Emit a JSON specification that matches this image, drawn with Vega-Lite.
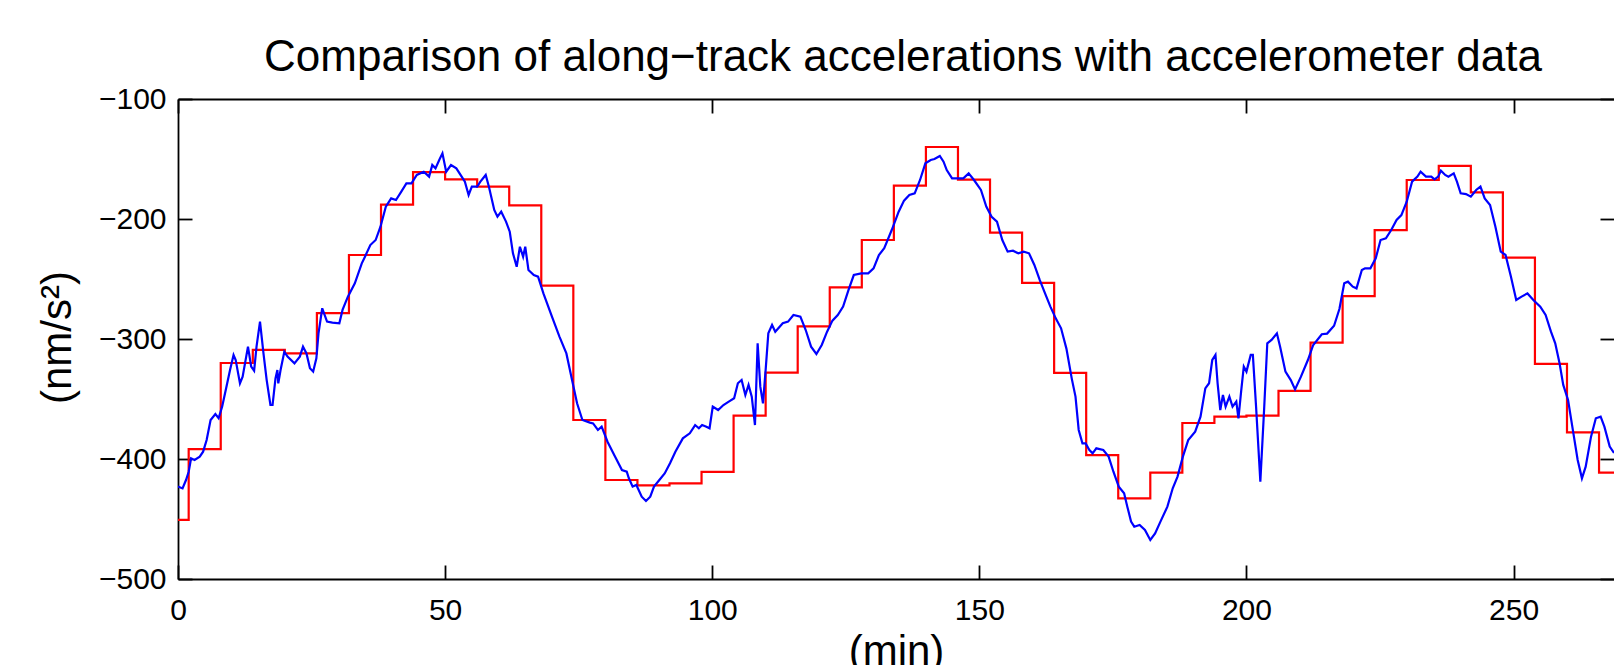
{
  "$schema": "https://vega.github.io/schema/vega-lite/v6.json",
  "autosize": "none",
  "width": 1436,
  "height": 480,
  "padding": {"left": 178, "top": 99, "right": 0, "bottom": 86},
  "background": "white",
  "config": {
    "view": {"stroke": null},
    "font": "Liberation Sans",
    "axis": {"grid": false, "labelFlush": false, "labelOverlap": false, "domainColor": "black", "tickColor": "black", "labelColor": "black", "titleColor": "black", "labelFont": "Liberation Sans", "titleFont": "Liberation Sans", "titleFontWeight": "normal", "domainWidth": 1.8, "tickWidth": 1.8, "tickSize": -14}
  },
  "title": {"text": "Comparison of along−track accelerations with accelerometer data", "font": "Liberation Sans", "fontSize": 44, "fontWeight": "normal", "color": "black", "anchor": "middle", "frame": "group", "baseline": "alphabetic", "offset": 26, "dx": 7, "dy": 57},
  "datasets": {
    "track": [
      {"t": 0, "v": -450.8}, {"t": 2, "v": -391.8}, {"t": 8, "v": -320}, {"t": 14, "v": -309}, {"t": 20, "v": -312},
      {"t": 26, "v": -278.4}, {"t": 32, "v": -230}, {"t": 38, "v": -188}, {"t": 44, "v": -161}, {"t": 50, "v": -167},
      {"t": 56, "v": -173}, {"t": 62, "v": -188.6}, {"t": 68, "v": -255.5}, {"t": 74, "v": -367.5}, {"t": 80, "v": -417.5},
      {"t": 86, "v": -421.9}, {"t": 92, "v": -420.3}, {"t": 98, "v": -410.8}, {"t": 104, "v": -363.9}, {"t": 110, "v": -328},
      {"t": 116, "v": -289.5}, {"t": 122, "v": -256.9}, {"t": 128, "v": -217.5}, {"t": 134, "v": -172.2}, {"t": 140, "v": -140},
      {"t": 146, "v": -167.2}, {"t": 152, "v": -211.4}, {"t": 158, "v": -253.3}, {"t": 164, "v": -328.2}, {"t": 170, "v": -396.7},
      {"t": 176, "v": -432.8}, {"t": 182, "v": -411.4}, {"t": 188, "v": -370}, {"t": 194, "v": -364.7}, {"t": 200, "v": -363.9},
      {"t": 206, "v": -343.3}, {"t": 212, "v": -303}, {"t": 218, "v": -264.2}, {"t": 224, "v": -209.2}, {"t": 230, "v": -167.5},
      {"t": 236, "v": -155.8}, {"t": 242, "v": -177.8}, {"t": 248, "v": -232.2}, {"t": 254, "v": -320.7}, {"t": 260, "v": -377.8},
      {"t": 266, "v": -411.4}, {"t": 268.8, "v": -411.4}
    ],
    "accel": [
      {"t": 0.0, "v": -423}, {"t": 0.85, "v": -424.5}, {"t": 1.5, "v": -417.5}, {"t": 2.0, "v": -410.6}, {"t": 2.45, "v": -399.4},
      {"t": 3.1, "v": -400.8}, {"t": 4.07, "v": -398}, {"t": 4.7, "v": -393.9}, {"t": 5.36, "v": -384.2}, {"t": 6.1, "v": -367.5},
      {"t": 7.0, "v": -362.5}, {"t": 7.6, "v": -366}, {"t": 8.26, "v": -356.4}, {"t": 9.2, "v": -337}, {"t": 9.74, "v": -325.8},
      {"t": 10.4, "v": -313.3}, {"t": 10.8, "v": -317.5}, {"t": 11.6, "v": -337}, {"t": 12.1, "v": -331.4}, {"t": 13.1, "v": -306.4},
      {"t": 13.7, "v": -323}, {"t": 14.25, "v": -326.4}, {"t": 14.7, "v": -306.4}, {"t": 15.35, "v": -285.5}, {"t": 16.0, "v": -312},
      {"t": 16.6, "v": -334.2}, {"t": 17.3, "v": -355}, {"t": 17.7, "v": -355}, {"t": 18.25, "v": -332.8}, {"t": 18.6, "v": -325.8},
      {"t": 18.77, "v": -337}, {"t": 19.2, "v": -325.8}, {"t": 19.9, "v": -310.6}, {"t": 20.5, "v": -314.7}, {"t": 21.8, "v": -320.3},
      {"t": 22.8, "v": -314.7}, {"t": 23.4, "v": -306.4}, {"t": 24.05, "v": -312}, {"t": 24.7, "v": -324.4}, {"t": 25.3, "v": -327.2},
      {"t": 25.9, "v": -316.1}, {"t": 26.3, "v": -295.3}, {"t": 27.0, "v": -274.4}, {"t": 27.9, "v": -285.5}, {"t": 28.9, "v": -286.4},
      {"t": 30.2, "v": -286.9}, {"t": 30.8, "v": -275.8}, {"t": 31.8, "v": -264.7}, {"t": 33.1, "v": -253.6}, {"t": 34.4, "v": -237},
      {"t": 35.0, "v": -231.4}, {"t": 36.0, "v": -221.7}, {"t": 37.0, "v": -217.5}, {"t": 37.9, "v": -206.4}, {"t": 38.9, "v": -189.7},
      {"t": 39.9, "v": -182.8}, {"t": 40.8, "v": -184.2}, {"t": 41.8, "v": -177.2}, {"t": 42.75, "v": -170.3}, {"t": 43.7, "v": -170.3},
      {"t": 44.7, "v": -163.3}, {"t": 46.0, "v": -160.6}, {"t": 47.0, "v": -164.7}, {"t": 47.6, "v": -155}, {"t": 48.2, "v": -157.8},
      {"t": 48.9, "v": -150.8}, {"t": 49.5, "v": -145.3}, {"t": 50.2, "v": -160.6}, {"t": 51.1, "v": -155}, {"t": 52.1, "v": -157.8},
      {"t": 53.1, "v": -164.7}, {"t": 53.7, "v": -168.9}, {"t": 54.4, "v": -180}, {"t": 55.0, "v": -173.1}, {"t": 56.0, "v": -173.1},
      {"t": 56.6, "v": -168.9}, {"t": 57.6, "v": -163.3}, {"t": 58.2, "v": -173.1}, {"t": 59.2, "v": -192.5}, {"t": 59.8, "v": -198.1},
      {"t": 60.5, "v": -193.9}, {"t": 61.4, "v": -202.2}, {"t": 62.1, "v": -210.6}, {"t": 62.7, "v": -228.6}, {"t": 63.4, "v": -239.8},
      {"t": 64.0, "v": -223.1}, {"t": 64.6, "v": -231.4}, {"t": 65.0, "v": -223.1}, {"t": 65.6, "v": -242.5}, {"t": 66.6, "v": -246.7},
      {"t": 67.4, "v": -248}, {"t": 68.4, "v": -262}, {"t": 70.0, "v": -281.4}, {"t": 71.4, "v": -298}, {"t": 72.7, "v": -312},
      {"t": 73.7, "v": -333}, {"t": 74.7, "v": -353.6}, {"t": 75.7, "v": -367.5}, {"t": 77.1, "v": -369.7}, {"t": 77.7, "v": -370.3},
      {"t": 78.6, "v": -375.8}, {"t": 79.3, "v": -373}, {"t": 80.4, "v": -385.6}, {"t": 81.8, "v": -398}, {"t": 83.1, "v": -409.2},
      {"t": 84.0, "v": -410.6}, {"t": 84.4, "v": -416.1}, {"t": 85.1, "v": -423}, {"t": 85.8, "v": -421.7}, {"t": 86.8, "v": -431.4},
      {"t": 87.6, "v": -435}, {"t": 88.4, "v": -431.4}, {"t": 89.1, "v": -423}, {"t": 90.1, "v": -417.5}, {"t": 91.1, "v": -412},
      {"t": 92.1, "v": -403.6}, {"t": 93.1, "v": -393.9}, {"t": 94.5, "v": -382.8}, {"t": 95.8, "v": -378.6}, {"t": 96.8, "v": -371.7},
      {"t": 97.5, "v": -374.4}, {"t": 98.1, "v": -371.7}, {"t": 98.8, "v": -373}, {"t": 99.5, "v": -374.4}, {"t": 100.1, "v": -356.4},
      {"t": 101.1, "v": -359.2}, {"t": 102.1, "v": -355}, {"t": 103.1, "v": -352.2}, {"t": 104.1, "v": -349.4}, {"t": 104.8, "v": -336.9},
      {"t": 105.5, "v": -334.2}, {"t": 106.2, "v": -346.7}, {"t": 106.8, "v": -338.3}, {"t": 107.4, "v": -348.1}, {"t": 108.0, "v": -371.7},
      {"t": 108.5, "v": -303.6}, {"t": 109.0, "v": -339.7}, {"t": 109.5, "v": -353.6}, {"t": 110.0, "v": -325.8}, {"t": 110.5, "v": -295.3},
      {"t": 111.2, "v": -288.3}, {"t": 111.8, "v": -293.9}, {"t": 113.2, "v": -286.9}, {"t": 114.2, "v": -285.5}, {"t": 115.2, "v": -280},
      {"t": 116.5, "v": -281.4}, {"t": 117.5, "v": -292.5}, {"t": 118.5, "v": -306.4}, {"t": 119.5, "v": -312.5}, {"t": 120.5, "v": -305},
      {"t": 121.5, "v": -293.9}, {"t": 122.5, "v": -284.7}, {"t": 123.5, "v": -280}, {"t": 124.5, "v": -273}, {"t": 125.5, "v": -259.2},
      {"t": 126.5, "v": -246.7}, {"t": 127.9, "v": -245.3}, {"t": 129.2, "v": -245.3}, {"t": 130.2, "v": -241.1}, {"t": 131.2, "v": -230},
      {"t": 132.2, "v": -224.4}, {"t": 133.6, "v": -209.2}, {"t": 134.9, "v": -193.9}, {"t": 135.9, "v": -184.7}, {"t": 136.9, "v": -180},
      {"t": 137.9, "v": -178.6}, {"t": 138.9, "v": -167.5}, {"t": 139.9, "v": -153.6}, {"t": 140.9, "v": -150.8}, {"t": 141.6, "v": -150},
      {"t": 142.6, "v": -147.5}, {"t": 143.3, "v": -152.2}, {"t": 143.9, "v": -159.2}, {"t": 144.9, "v": -166.1}, {"t": 146.0, "v": -166.1},
      {"t": 147.0, "v": -166.1}, {"t": 148.0, "v": -162}, {"t": 149.0, "v": -167.5}, {"t": 150.3, "v": -175.8}, {"t": 151.3, "v": -189.7},
      {"t": 152.3, "v": -198.1}, {"t": 153.3, "v": -202.2}, {"t": 154.3, "v": -217.5}, {"t": 155.3, "v": -227.2}, {"t": 156.3, "v": -226.4},
      {"t": 157.3, "v": -228.6}, {"t": 158.3, "v": -227.2}, {"t": 159.3, "v": -228.6}, {"t": 160.3, "v": -238.3}, {"t": 161.3, "v": -250.8},
      {"t": 162.3, "v": -262}, {"t": 163.3, "v": -273}, {"t": 164.3, "v": -282.8}, {"t": 165.3, "v": -291.1}, {"t": 166.3, "v": -308},
      {"t": 167.3, "v": -333}, {"t": 168.0, "v": -348}, {"t": 168.6, "v": -375.8}, {"t": 169.3, "v": -387}, {"t": 169.9, "v": -387},
      {"t": 170.6, "v": -392.5}, {"t": 171.2, "v": -395.3}, {"t": 171.9, "v": -391.1}, {"t": 173.2, "v": -392.5}, {"t": 174.2, "v": -398},
      {"t": 175.1, "v": -410.6}, {"t": 176.1, "v": -423}, {"t": 177.1, "v": -428.6}, {"t": 177.7, "v": -439.7}, {"t": 178.4, "v": -452.2},
      {"t": 179.0, "v": -456.4}, {"t": 180.0, "v": -455}, {"t": 181.0, "v": -459.2}, {"t": 182.0, "v": -467.5}, {"t": 182.9, "v": -462},
      {"t": 183.9, "v": -452.2}, {"t": 185.2, "v": -439.7}, {"t": 186.2, "v": -424.4}, {"t": 187.1, "v": -414.7}, {"t": 188.1, "v": -398},
      {"t": 189.1, "v": -384.2}, {"t": 190.4, "v": -377.2}, {"t": 191.4, "v": -364.7}, {"t": 192.3, "v": -341.1}, {"t": 193.0, "v": -336.9},
      {"t": 193.6, "v": -317.5}, {"t": 194.2, "v": -313.3}, {"t": 194.6, "v": -336.9}, {"t": 195.1, "v": -359.2}, {"t": 195.6, "v": -346.7},
      {"t": 196.1, "v": -356.4}, {"t": 196.8, "v": -348}, {"t": 197.4, "v": -356.4}, {"t": 198.1, "v": -352.2}, {"t": 198.5, "v": -366.1},
      {"t": 199.0, "v": -343.9}, {"t": 199.5, "v": -323}, {"t": 200.0, "v": -327.2}, {"t": 200.8, "v": -313.3}, {"t": 201.2, "v": -313.3},
      {"t": 201.8, "v": -356.4}, {"t": 202.6, "v": -418.9}, {"t": 203.3, "v": -359.2}, {"t": 203.9, "v": -303.6}, {"t": 204.7, "v": -300.8},
      {"t": 205.7, "v": -295.3}, {"t": 206.3, "v": -306.4}, {"t": 207.3, "v": -327.2}, {"t": 208.3, "v": -334.2}, {"t": 209.1, "v": -342},
      {"t": 210.2, "v": -331.4}, {"t": 211.5, "v": -317.5}, {"t": 212.5, "v": -305}, {"t": 214.1, "v": -296}, {"t": 215.1, "v": -295.5},
      {"t": 216.4, "v": -289}, {"t": 217.4, "v": -275}, {"t": 218.3, "v": -253.6}, {"t": 219.0, "v": -252.2}, {"t": 219.9, "v": -256.4},
      {"t": 220.6, "v": -257.8}, {"t": 221.6, "v": -242.5}, {"t": 222.2, "v": -241.1}, {"t": 223.2, "v": -241.1}, {"t": 224.2, "v": -232.8},
      {"t": 225.1, "v": -217.5}, {"t": 226.1, "v": -216.1}, {"t": 227.1, "v": -209.2}, {"t": 228.1, "v": -200.8}, {"t": 229.0, "v": -196.7},
      {"t": 230.0, "v": -185.6}, {"t": 231.0, "v": -168.9}, {"t": 232.0, "v": -164.7}, {"t": 232.6, "v": -160.6}, {"t": 233.6, "v": -164.7},
      {"t": 234.6, "v": -164.7}, {"t": 235.2, "v": -167}, {"t": 235.9, "v": -164.7}, {"t": 236.4, "v": -159.7}, {"t": 237.2, "v": -163.3},
      {"t": 237.8, "v": -164.7}, {"t": 238.8, "v": -162}, {"t": 239.4, "v": -168.9}, {"t": 240.1, "v": -178.6}, {"t": 241.1, "v": -179.2},
      {"t": 242.0, "v": -181.4}, {"t": 243.0, "v": -175.8}, {"t": 243.8, "v": -173}, {"t": 244.6, "v": -182.8}, {"t": 245.6, "v": -188.3},
      {"t": 246.6, "v": -206.4}, {"t": 247.6, "v": -227.2}, {"t": 248.5, "v": -230}, {"t": 249.5, "v": -248}, {"t": 250.5, "v": -267.5},
      {"t": 251.5, "v": -264.7}, {"t": 252.6, "v": -262}, {"t": 253.7, "v": -267.5}, {"t": 255.0, "v": -273}, {"t": 256.0, "v": -280},
      {"t": 257.0, "v": -293.9}, {"t": 257.8, "v": -303.6}, {"t": 258.6, "v": -320}, {"t": 259.3, "v": -338.3}, {"t": 260.2, "v": -350.8},
      {"t": 261.2, "v": -378.6}, {"t": 262.0, "v": -400.8}, {"t": 262.8, "v": -416.1}, {"t": 263.5, "v": -406.4}, {"t": 264.5, "v": -381.4},
      {"t": 265.4, "v": -366.1}, {"t": 266.3, "v": -364.7}, {"t": 267.0, "v": -373}, {"t": 268.0, "v": -389.7}, {"t": 268.8, "v": -395}
    ]
  },
  "layer": [
    {
      "data": {"name": "track"},
      "mark": {"type": "line", "color": "#ff0000", "strokeWidth": 2.2, "interpolate": "step-after", "clip": true},
      "encoding": {
        "x": {"field": "t", "type": "quantitative", "scale": {"domain": [0, 268.8], "nice": false, "zero": false},
              "axis": {"orient": "bottom", "values": [0, 50, 100, 150, 200, 250], "labelFontSize": 30, "labelPadding": 30, "labelBaseline": "top",
                       "title": "(min)", "titleFontSize": 42, "titleBaseline": "alphabetic", "titleY": 85}},
        "y": {"field": "v", "type": "quantitative", "scale": {"domain": [-500, -100], "nice": false, "zero": false},
              "axis": {"orient": "left", "values": [-500, -400, -300, -200, -100], "labelFontSize": 30, "labelPadding": 26, "labelBaseline": "middle",
                       "title": "(nm/s²)", "titleFontSize": 42, "titleAngle": -90, "titleBaseline": "alphabetic", "titleAlign": "center", "titleX": -108, "titleY": 238}}
      }
    },
    {
      "data": {"name": "accel"},
      "mark": {"type": "line", "color": "#0000ff", "strokeWidth": 2.2, "clip": true},
      "encoding": {
        "x": {"field": "t", "type": "quantitative", "scale": {"domain": [0, 268.8], "nice": false, "zero": false},
              "axis": {"orient": "top", "values": [0, 50, 100, 150, 200, 250], "labels": false, "title": null}},
        "y": {"field": "v", "type": "quantitative", "scale": {"domain": [-500, -100], "nice": false, "zero": false},
              "axis": {"orient": "right", "values": [-500, -400, -300, -200, -100], "labels": false, "domain": false, "title": null}}
      }
    }
  ],
  "resolve": {"axis": {"x": "independent", "y": "independent"}}
}
